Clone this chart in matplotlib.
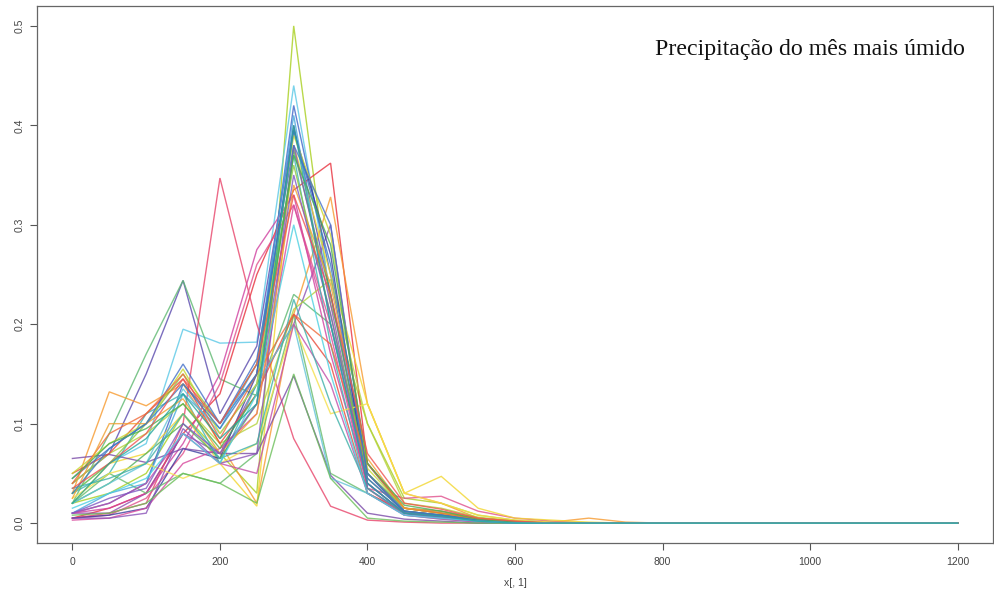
import matplotlib
matplotlib.use("Agg")
import matplotlib.pyplot as plt

# x grid: precipitation classes 0..1200 step 50
x_values = [0, 50, 100, 150, 200, 250, 300, 350, 400, 450, 500, 550, 600,
            650, 700, 750, 800, 850, 900, 950, 1000, 1050, 1100, 1150, 1200]

Z = [0.0] * 9  # values for 800..1200 (all zero in the picture)

s01 = [0.020, 0.030, 0.050, 0.110, 0.070, 0.030, 0.500, 0.220, 0.100, 0.025, 0.020, 0.008, 0.003, 0.001, 0.000, 0.000]
s02 = [0.030, 0.060, 0.080, 0.195, 0.181, 0.182, 0.440, 0.230, 0.060, 0.012, 0.008, 0.004, 0.002, 0.001, 0.000, 0.000]
s03 = [0.010, 0.020, 0.040, 0.140, 0.100, 0.150, 0.420, 0.250, 0.050, 0.015, 0.012, 0.005, 0.002, 0.001, 0.000, 0.000]
s04 = [0.040, 0.070, 0.150, 0.244, 0.110, 0.178, 0.400, 0.230, 0.050, 0.010, 0.008, 0.003, 0.001, 0.000, 0.000, 0.000]
s05 = [0.020, 0.090, 0.170, 0.244, 0.145, 0.128, 0.230, 0.200, 0.060, 0.015, 0.010, 0.004, 0.001, 0.000, 0.000, 0.000]
s06 = [0.005, 0.015, 0.030, 0.090, 0.130, 0.250, 0.335, 0.362, 0.060, 0.015, 0.010, 0.004, 0.001, 0.000, 0.000, 0.000]
s07 = [0.030, 0.132, 0.118, 0.140, 0.080, 0.020, 0.210, 0.328, 0.120, 0.030, 0.020, 0.005, 0.002, 0.001, 0.005, 0.001]
s08 = [0.010, 0.010, 0.030, 0.090, 0.070, 0.140, 0.200, 0.300, 0.050, 0.012, 0.008, 0.003, 0.001, 0.000, 0.000, 0.000]
s09 = [0.005, 0.010, 0.020, 0.100, 0.347, 0.200, 0.085, 0.017, 0.003, 0.001, 0.000, 0.000, 0.000, 0.000, 0.000, 0.000]
s10 = [0.010, 0.015, 0.030, 0.080, 0.150, 0.275, 0.330, 0.170, 0.040, 0.010, 0.008, 0.003, 0.001, 0.000, 0.000, 0.000]
s11 = [0.005, 0.008, 0.025, 0.070, 0.140, 0.260, 0.320, 0.200, 0.035, 0.025, 0.027, 0.012, 0.005, 0.002, 0.000, 0.000]
s12 = [0.020, 0.060, 0.070, 0.110, 0.060, 0.017, 0.380, 0.250, 0.120, 0.030, 0.047, 0.015, 0.005, 0.003, 0.001, 0.000]
s13 = [0.040, 0.070, 0.090, 0.120, 0.080, 0.100, 0.215, 0.245, 0.100, 0.020, 0.015, 0.006, 0.002, 0.000, 0.000, 0.000]
s14 = [0.030, 0.050, 0.110, 0.130, 0.060, 0.140, 0.370, 0.180, 0.030, 0.010, 0.006, 0.002, 0.000, 0.000, 0.000, 0.000]
s15 = [0.005, 0.008, 0.015, 0.075, 0.065, 0.150, 0.395, 0.270, 0.035, 0.010, 0.005, 0.002, 0.000, 0.000, 0.000, 0.000]
s16 = [0.020, 0.050, 0.030, 0.050, 0.040, 0.070, 0.210, 0.050, 0.030, 0.010, 0.005, 0.001, 0.000, 0.000, 0.000, 0.000]
s17 = [0.065, 0.069, 0.061, 0.075, 0.070, 0.070, 0.148, 0.048, 0.010, 0.004, 0.002, 0.000, 0.000, 0.000, 0.000, 0.000]
s18 = [0.050, 0.070, 0.110, 0.145, 0.080, 0.130, 0.210, 0.160, 0.030, 0.012, 0.008, 0.003, 0.001, 0.000, 0.000, 0.000]
s19 = [0.010, 0.030, 0.040, 0.130, 0.095, 0.160, 0.410, 0.200, 0.040, 0.010, 0.006, 0.002, 0.000, 0.000, 0.000, 0.000]
s20 = [0.020, 0.040, 0.070, 0.100, 0.065, 0.120, 0.375, 0.230, 0.045, 0.012, 0.008, 0.003, 0.001, 0.000, 0.000, 0.000]
s21 = [0.003, 0.005, 0.015, 0.060, 0.075, 0.110, 0.320, 0.190, 0.035, 0.008, 0.005, 0.002, 0.000, 0.000, 0.000, 0.000]
s22 = [0.025, 0.050, 0.060, 0.045, 0.060, 0.080, 0.200, 0.110, 0.120, 0.030, 0.020, 0.008, 0.003, 0.001, 0.000, 0.000]
s23 = [0.005, 0.005, 0.010, 0.095, 0.060, 0.070, 0.380, 0.220, 0.040, 0.010, 0.006, 0.002, 0.000, 0.000, 0.000, 0.000]
s24 = [0.020, 0.040, 0.060, 0.135, 0.090, 0.140, 0.200, 0.045, 0.030, 0.008, 0.004, 0.001, 0.000, 0.000, 0.000, 0.000]
s25 = [0.030, 0.060, 0.100, 0.150, 0.100, 0.160, 0.360, 0.210, 0.050, 0.015, 0.010, 0.004, 0.001, 0.000, 0.000, 0.000]
s26 = [0.050, 0.080, 0.100, 0.155, 0.090, 0.140, 0.390, 0.290, 0.055, 0.015, 0.010, 0.004, 0.001, 0.000, 0.000, 0.000]
s27 = [0.045, 0.075, 0.100, 0.160, 0.100, 0.165, 0.380, 0.300, 0.045, 0.012, 0.008, 0.003, 0.001, 0.000, 0.000, 0.000]
s28 = [0.040, 0.090, 0.110, 0.150, 0.085, 0.150, 0.210, 0.180, 0.060, 0.015, 0.010, 0.004, 0.001, 0.000, 0.000, 0.000]
s29 = [0.010, 0.020, 0.040, 0.090, 0.060, 0.050, 0.200, 0.140, 0.030, 0.008, 0.004, 0.001, 0.000, 0.000, 0.000, 0.000]
s30 = [0.008, 0.010, 0.020, 0.050, 0.040, 0.020, 0.150, 0.045, 0.005, 0.002, 0.001, 0.000, 0.000, 0.000, 0.000, 0.000]
s31 = [0.035, 0.045, 0.060, 0.110, 0.065, 0.080, 0.225, 0.120, 0.035, 0.010, 0.006, 0.002, 0.000, 0.000, 0.000, 0.000]
s32 = [0.025, 0.100, 0.100, 0.125, 0.070, 0.110, 0.340, 0.240, 0.065, 0.015, 0.012, 0.005, 0.002, 0.000, 0.000, 0.000]
s33 = [0.030, 0.075, 0.100, 0.140, 0.095, 0.150, 0.395, 0.260, 0.050, 0.012, 0.008, 0.003, 0.001, 0.000, 0.000, 0.000]
s34 = [0.045, 0.080, 0.095, 0.120, 0.075, 0.130, 0.370, 0.280, 0.060, 0.018, 0.012, 0.004, 0.001, 0.000, 0.000, 0.000]
s35 = [0.010, 0.025, 0.035, 0.100, 0.070, 0.120, 0.350, 0.210, 0.040, 0.010, 0.006, 0.002, 0.000, 0.000, 0.000, 0.000]
s36 = [0.035, 0.060, 0.090, 0.145, 0.100, 0.160, 0.330, 0.230, 0.070, 0.020, 0.014, 0.005, 0.002, 0.000, 0.000, 0.000]
s37 = [0.015, 0.030, 0.045, 0.090, 0.060, 0.130, 0.300, 0.150, 0.030, 0.008, 0.005, 0.002, 0.000, 0.000, 0.000, 0.000]
s38 = [0.020, 0.060, 0.085, 0.130, 0.085, 0.120, 0.400, 0.200, 0.040, 0.010, 0.007, 0.002, 0.000, 0.000, 0.000, 0.000]

series = [s01, s02, s03, s04, s05, s06, s07, s08, s09, s10, s11, s12, s13, s14, s15, s16,
          s17, s18, s19, s20, s21, s22, s23, s24, s25, s26, s27, s28, s29, s30, s31, s32,
          s33, s34, s35, s36, s37, s38]

line_colors = ["#A8CF1E", "#5AC8E6", "#3C64C8", "#5A4AAE", "#5DB870", "#E8303C",
               "#F79A2E", "#8E50B0", "#E8446A", "#D040A0", "#E0508C", "#F2D62E",
               "#B4D23C", "#3CB4B4", "#3A3C9E", "#66BB6A", "#7A4AA8", "#E84A3A",
               "#46A8DC", "#52B05A", "#D8489C", "#F5E04A", "#8A52B8", "#62C4D8",
               "#8CC63E", "#C8D82E", "#4470C8", "#F06A3A", "#C24EA8", "#6CBF5A",
               "#3EB0A8", "#F0A030", "#3A7CC0", "#4CAF50", "#7E57C2", "#EF5350",
               "#4DD0E1", "#26A69A"]

title_text = "Precipitação do mês mais úmido"
x_label = "x[, 1]"
x_ticks = [0, 200, 400, 600, 800, 1000, 1200]
y_ticks = [0.0, 0.1, 0.2, 0.3, 0.4, 0.5]

fig = plt.figure(figsize=(9.94, 5.92), dpi=100)
ax = fig.add_axes([37 / 994, 1 - 543 / 592, 956 / 994, 537 / 592])

for vals, col in zip(series, line_colors):
    ax.plot(x_values, vals + Z, color=col, lw=1.0, alpha=0.8, solid_joinstyle="miter")

ax.set_xlim(-48, 1248)
ax.set_ylim(-0.02, 0.52)
ax.set_xticks(x_ticks)
ax.set_xticklabels([str(t) for t in x_ticks])
ax.set_yticks(y_ticks)
ax.set_yticklabels([f"{t:.1f}" for t in y_ticks], rotation=90, va="center")
ax.tick_params(axis="both", direction="out", length=5, width=0.8, colors="#555555",
               labelsize=7.5, labelcolor="#444444", pad=5)
ax.tick_params(axis="y", pad=4)
for sp in ax.spines.values():
    sp.set_color("#666666")
    sp.set_linewidth(0.9)

ax.set_xlabel(x_label, fontsize=7.5, color="#444444", labelpad=8, family="Liberation Sans")
for lab in ax.get_xticklabels() + ax.get_yticklabels():
    lab.set_family("Liberation Sans")

fig.text(810 / 994, 1 - 50 / 592, title_text, ha="center", va="center",
         fontsize=17.2, family="Liberation Serif", color="#111111")

fig.savefig("out.png", dpi=100)
